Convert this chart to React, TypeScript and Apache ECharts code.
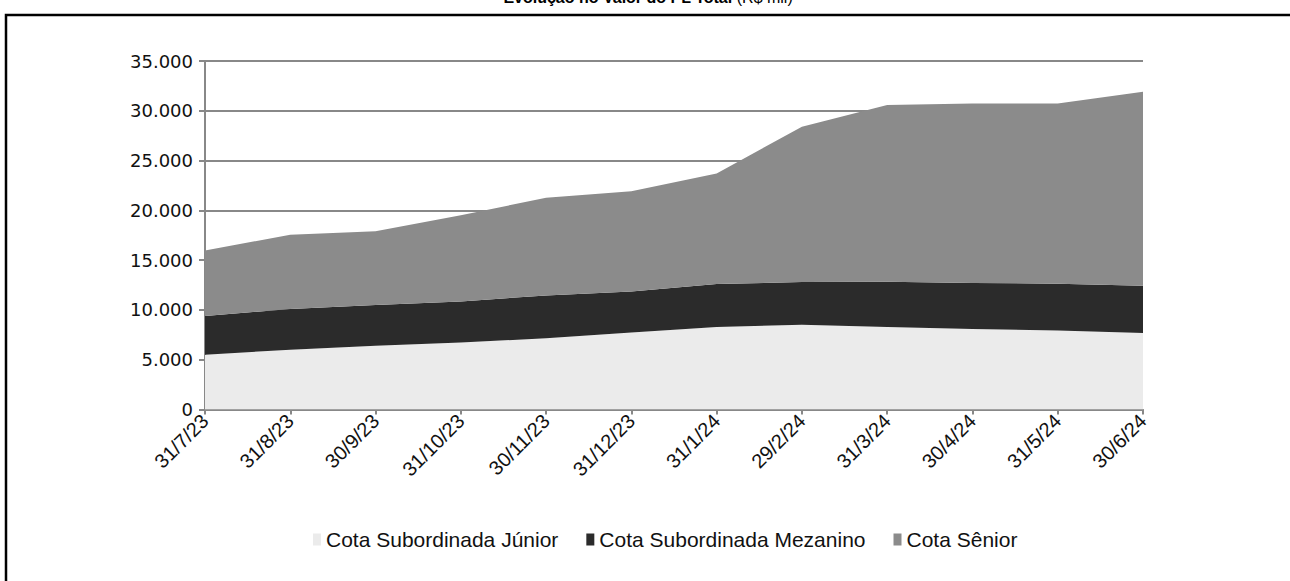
import React, { useEffect, useRef } from "react";
import * as echarts from "echarts";

const categories = ["31/7/23", "31/8/23", "30/9/23", "31/10/23", "30/11/23", "31/12/23", "31/1/24", "29/2/24", "31/3/24", "30/4/24", "31/5/24", "30/6/24"];
const junior = [5500, 6000, 6400, 6730, 7150, 7740, 8280, 8510, 8280, 8080, 7940, 7680];
const mezanino = [3900, 4090, 4090, 4120, 4310, 4120, 4320, 4290, 4540, 4620, 4700, 4750];
const senior = [6560, 7470, 7410, 8655, 9810, 10060, 11100, 15600, 17750, 18040, 18100, 19490];
const seriesNames = ["Cota Subordinada Júnior", "Cota Subordinada Mezanino", "Cota Sênior"];
const seriesColors = ["#ebebeb", "#2b2b2b", "#8b8b8b"];

export default function App() {
  const ref = useRef<HTMLDivElement>(null);
  useEffect(() => {
    if (!ref.current) return;
    const chart = echarts.init(ref.current, null, { renderer: "svg" });
    const data = [junior, mezanino, senior];
    chart.setOption({
      animation: false,
      backgroundColor: "#ffffff",
      grid: { left: 205, right: 147, top: 61, bottom: 171.5, containLabel: false },
      graphic: [
        {
          type: "rect",
          shape: { x: 6, y: 15, width: 1400, height: 800 },
          style: { fill: "none", stroke: "#000", lineWidth: 2.5 },
          silent: true,
        },
        {
          type: "text",
          x: 648,
          y: -3,
          style: {
            text: "{b|Evolução no Valor do PL Total}{n| (R$ mil)}",
            align: "center",
            verticalAlign: "middle",
            rich: {
              b: { fontFamily: "Liberation Sans", fontWeight: "bold", fontSize: 16, fill: "#000" },
              n: { fontFamily: "Liberation Sans", fontWeight: "normal", fontSize: 16, fill: "#000" },
            },
          },
        },
      ],
      legend: {
        left: 308,
        top: 524,
        itemWidth: 8,
        itemHeight: 12,
        itemGap: 28,
        icon: "rect",
        data: seriesNames,
        textStyle: { fontFamily: "Liberation Sans", fontSize: 21, color: "#111" },
      },
      xAxis: {
        type: "category",
        boundaryGap: false,
        data: categories,
        axisLine: { lineStyle: { color: "#888", width: 2 } },
        axisTick: { show: true, length: 5, lineStyle: { color: "#888", width: 2 } },
        axisLabel: {
          rotate: 45,
          margin: 8,
          interval: 0,
          fontFamily: "Liberation Sans",
          fontSize: 20,
          color: "#111",
        },
        splitLine: { show: false },
      },
      yAxis: {
        type: "value",
        min: 0,
        max: 35000,
        interval: 5000,
        axisLine: { show: true, lineStyle: { color: "#888", width: 2 } },
        axisTick: { show: true, length: 6, lineStyle: { color: "#888", width: 2 } },
        axisLabel: {
          margin: 12,
          fontFamily: "DejaVu Sans",
          fontSize: 18,
          color: "#111",
          formatter: (v: number) => (v === 0 ? "0" : v.toLocaleString("de-DE")),
        },
        splitLine: { show: true, lineStyle: { color: "#888", width: 2 } },
      },
      series: seriesNames.map((name, i) => ({
        name,
        type: "line",
        stack: "total",
        data: data[i],
        showSymbol: false,
        symbol: "none",
        lineStyle: { width: 0 },
        areaStyle: { color: seriesColors[i], opacity: 1 },
        itemStyle: { color: seriesColors[i] },
        z: 3,
      })),
    });
    return () => chart.dispose();
  }, []);
  return (
    <div
      ref={ref}
      style={{ position: "fixed", left: 0, top: 0, width: 1290, height: 581 }}
    />
  );
}
